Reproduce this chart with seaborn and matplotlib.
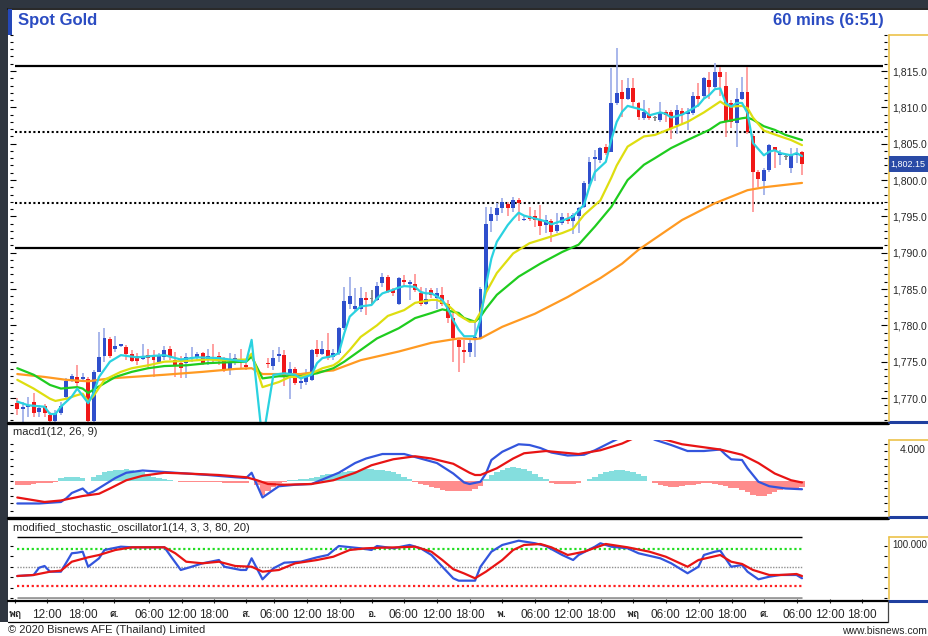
import numpy as np
import seaborn as sns
import matplotlib.pyplot as plt
from matplotlib import font_manager
from matplotlib.ft2font import FT2Font
from matplotlib.lines import Line2D
from matplotlib.patches import Rectangle
from matplotlib.ticker import FuncFormatter, FixedLocator

nan = float('nan')

# hourly candles, Spot Gold
opens = [1769.3, 1768.5, 1768.8, 1769.4, 1768.1, 1768.9, 1767.7, 1766.8, 1767.9, 1770.2,
         1772.5, 1772.9, 1772.6, 1772.6, 1766.8, 1773.6, 1775.8, 1778.1, 1776.7, 1777.1,
         1777.0, 1776.1, 1775.8, 1775.4, 1775.9, 1775.8, 1774.9, 1775.7, 1776.7, 1775.2,
         1774.8, 1774.8, 1775.5, 1775.5, 1776.2, 1775.3, 1775.7, 1775.8, 1775.5, 1774.0,
         1775.2, 1775.2, 1774.5, nan, nan, nan, 1774.8, 1774.4, 1775.8, 1775.9,
         1773.4, 1774.0, 1772.0, 1772.2, 1772.5, 1776.7, 1776.1, 1776.6, 1775.6, 1776.2,
         1779.6, 1783.0, 1782.3, 1782.3, 1783.8, 1783.6, 1783.5, 1785.8, 1786.6, 1784.8,
         1783.0, 1786.3, 1785.7, 1785.7, 1784.5, 1783.0, 1784.8, 1783.7, 1784.2, 1782.9,
         1781.0, 1778.0, 1776.6, 1776.4, 1778.0, 1778.2, 1784.9, 1794.3, 1795.2, 1796.1,
         1796.7, 1796.1, 1797.2, 1794.5, 1795.0, 1795.0, 1794.5, 1793.8, 1794.3, 1793.0,
         1794.1, 1794.7, 1794.3, 1795.0, 1796.3, 1799.5, 1802.9, 1802.7, 1804.6, 1803.9,
         1810.6, 1812.1, 1811.2, 1812.6, 1810.6, 1808.5, 1808.9, 1808.5, 1808.3, 1809.4,
         1809.3, 1807.6, 1809.5, 1809.1, 1809.2, 1811.6, 1811.5, 1813.8, 1812.8, 1814.8,
         1812.9, 1810.6, 1807.9, 1811.2, 1812.1, 1806.0, 1801.1, 1799.8, 1801.4, 1804.5,
         1803.4, 1803.2, 1801.6, 1803.4, 1803.9]
highs = [1770.0, 1769.5, 1770.2, 1770.7, 1769.0, 1769.2, 1768.1, 1768.4, 1769.5, 1772.7,
         1773.3, 1774.6, 1773.4, 1772.9, 1773.9, 1779.1, 1779.6, 1778.4, 1778.5, 1777.5,
         1777.3, 1776.6, 1776.2, 1777.4, 1776.8, 1776.6, 1776.2, 1777.1, 1777.1, 1776.4,
         1775.8, 1776.2, 1777.0, 1776.4, 1776.4, 1776.8, 1777.4, 1776.4, 1775.7, 1776.2,
         1776.1, 1776.8, 1774.8, nan, nan, nan, 1775.5, 1776.6, 1777.0, 1776.6,
         1775.0, 1774.3, 1772.9, 1774.0, 1776.8, 1778.0, 1777.8, 1779.0, 1776.8, 1779.8,
         1785.3, 1786.7, 1785.1, 1785.3, 1784.6, 1784.9, 1786.0, 1787.2, 1786.9, 1785.2,
         1786.7, 1786.9, 1786.2, 1787.1, 1785.3, 1785.1, 1785.1, 1785.1, 1785.3, 1783.5,
         1781.7, 1778.2, 1778.0, 1778.2, 1780.3, 1785.3, 1796.3, 1796.3, 1796.8, 1797.5,
         1797.0, 1797.7, 1797.5, 1795.0, 1796.3, 1795.9, 1796.6, 1795.2, 1794.7, 1795.4,
         1795.4, 1795.4, 1795.4, 1796.3, 1799.8, 1803.2, 1804.1, 1804.6, 1805.0, 1815.4,
         1818.1, 1813.8, 1814.0, 1814.0, 1810.8, 1811.0, 1809.9, 1808.8, 1810.8, 1809.6,
         1809.6, 1810.3, 1809.9, 1809.9, 1812.1, 1813.3, 1814.2, 1814.9, 1816.1, 1815.6,
         1814.9, 1811.0, 1812.6, 1814.2, 1815.6, 1806.4, 1801.4, 1801.6, 1805.0, 1804.6,
         1804.1, 1803.6, 1804.4, 1804.4, 1804.0]
lows = [1767.7, 1766.6, 1767.4, 1767.4, 1767.4, 1767.4, 1766.6, 1766.6, 1767.7, 1769.7,
        1772.2, 1771.6, 1772.2, 1766.6, 1766.6, 1773.6, 1775.0, 1775.5, 1776.4, 1777.0,
        1775.2, 1775.0, 1774.5, 1775.2, 1774.3, 1772.9, 1774.7, 1775.2, 1775.2, 1772.9,
        1772.7, 1772.7, 1775.0, 1775.1, 1774.5, 1774.5, 1775.0, 1774.5, 1773.6, 1773.2,
        1774.5, 1774.1, 1773.9, nan, nan, nan, 1774.1, 1773.9, 1774.9, 1771.6,
        1769.8, 1771.8, 1771.2, 1771.8, 1772.4, 1775.7, 1775.9, 1775.2, 1775.2, 1775.9,
        1779.4, 1782.3, 1781.9, 1781.9, 1781.4, 1783.0, 1783.3, 1785.3, 1784.4, 1784.0,
        1782.8, 1785.3, 1783.5, 1784.6, 1782.6, 1782.8, 1783.7, 1782.3, 1782.6, 1780.3,
        1775.0, 1773.6, 1774.8, 1775.7, 1775.7, 1778.1, 1784.6, 1792.9, 1794.3, 1795.4,
        1795.0, 1795.6, 1794.3, 1794.3, 1794.3, 1793.6, 1792.4, 1792.7, 1791.5, 1792.7,
        1793.8, 1794.0, 1792.6, 1792.7, 1796.1, 1799.1, 1799.8, 1802.3, 1803.4, 1803.8,
        1810.3, 1808.7, 1811.0, 1810.1, 1808.3, 1808.3, 1808.3, 1808.1, 1808.0, 1808.0,
        1805.7, 1806.4, 1807.8, 1806.9, 1808.9, 1810.1, 1811.2, 1811.2, 1812.6, 1811.5,
        1805.9, 1807.1, 1804.6, 1811.0, 1806.4, 1795.6, 1799.1, 1797.9, 1801.1, 1801.6,
        1802.1, 1802.7, 1800.9, 1802.3, 1800.7]
closes = [1768.5, 1768.8, 1769.0, 1768.0, 1768.6, 1767.9, 1766.8, 1767.9, 1768.9, 1772.3,
          1773.0, 1772.0, 1772.9, 1766.8, 1773.6, 1775.6, 1778.2, 1775.8, 1777.2, 1777.4,
          1776.1, 1775.1, 1775.1, 1775.7, 1775.5, 1775.2, 1775.8, 1776.6, 1775.8, 1774.5,
          1774.1, 1775.7, 1775.7, 1776.1, 1774.8, 1775.8, 1775.5, 1775.1, 1774.0, 1774.8,
          1775.5, 1775.0, 1774.3, nan, nan, nan, 1774.7, 1775.5, 1776.0, 1772.9,
          1774.0, 1772.0, 1772.3, 1773.2, 1776.6, 1776.1, 1776.8, 1775.5, 1776.2, 1779.6,
          1783.3, 1784.0, 1782.7, 1783.7, 1783.5, 1783.6, 1785.4, 1786.7, 1784.6, 1784.5,
          1786.5, 1786.0, 1785.9, 1784.9, 1783.0, 1783.6, 1784.2, 1784.4, 1782.9, 1781.0,
          1778.2, 1777.0, 1776.4, 1777.6, 1778.4, 1785.0, 1794.0, 1795.3, 1796.1, 1797.0,
          1796.1, 1797.3, 1796.8, 1794.7, 1794.7, 1794.5, 1793.7, 1794.5, 1792.9, 1793.8,
          1794.9, 1794.3, 1795.2, 1796.1, 1799.6, 1802.5, 1803.2, 1804.4, 1803.7, 1810.6,
          1812.0, 1811.2, 1812.7, 1810.8, 1808.7, 1809.3, 1808.6, 1808.5, 1809.4, 1808.9,
          1807.2, 1809.6, 1808.9, 1809.4, 1811.6, 1811.2, 1814.0, 1812.8, 1814.8, 1814.2,
          1808.0, 1808.0, 1811.2, 1812.1, 1806.6, 1801.1, 1800.1, 1801.4, 1804.8, 1804.1,
          1803.7, 1803.2, 1803.4, 1803.7, 1802.15]

# moving averages, read at bar index
cyan_idx = [0, 2, 5, 6, 7, 8, 10, 11, 13, 14, 15, 17, 19, 21, 22, 25, 27, 29, 30, 33, 37, 40, 42, 43, 45,
            47, 49, 51, 52, 54, 55, 56, 58, 59, 60, 61, 62, 63, 65, 66, 67, 69, 70, 71, 73, 74, 75, 76,
            77, 78, 79, 80, 81, 82, 84, 85, 86, 87, 88, 90, 91, 92, 93, 95, 97, 98, 100, 102, 104, 105,
            106, 108, 109, 110, 111, 112, 114, 115, 116, 118, 119, 120, 122, 123, 125, 126, 127, 128,
            129, 130, 131, 132, 133, 134, 135, 137, 138, 139, 140, 142, 143, 144]
cyan_val = [1769.5, 1769.0, 1768.8, 1767.8, 1767.8, 1768.8, 1770.2, 1771.3, 1769.3, 1770.7, 1772.9,
            1775.0, 1775.9, 1775.7, 1775.6, 1775.8, 1775.9, 1775.5, 1775.3, 1775.6, 1775.5, 1775.2,
            1775.0, 1778.0, 1764.0, 1773.2, 1773.4, 1773.2, 1772.7, 1773.2, 1774.8, 1775.5, 1775.8,
            1776.2, 1778.9, 1781.2, 1781.9, 1782.6, 1782.8, 1783.7, 1784.4, 1784.9, 1785.2, 1785.4,
            1785.3, 1784.6, 1784.4, 1784.4, 1784.0, 1783.5, 1782.3, 1780.7, 1779.4, 1778.5, 1778.5,
            1780.8, 1785.5, 1789.2, 1791.5, 1793.8, 1794.7, 1795.5, 1795.1, 1794.7, 1794.3, 1793.9,
            1794.4, 1795.0, 1796.6, 1799.1, 1801.1, 1802.5, 1805.5, 1808.0, 1809.4, 1810.2, 1809.8,
            1809.6, 1808.9, 1809.3, 1809.1, 1808.6, 1809.0, 1809.4, 1810.3, 1811.2, 1811.7, 1812.5,
            1812.6, 1810.6, 1810.1, 1810.6, 1810.6, 1809.2, 1805.1, 1803.4, 1803.9, 1804.1, 1803.7,
            1803.4, 1803.7, 1803.3]
yellow_idx = [0, 3, 6, 7, 9, 11, 12, 13, 14, 16, 19, 21, 24, 27, 31, 35, 38, 42, 43, 45, 48, 50, 52, 54,
              56, 58, 59, 61, 63, 66, 68, 71, 73, 76, 77, 79, 81, 83, 84, 85, 86, 88, 91, 94, 97, 100,
              102, 104, 107, 109, 110, 112, 115, 117, 120, 123, 126, 129, 130, 131, 133, 134, 135, 137,
              140, 142, 144]
yellow_val = [1772.5, 1771.3, 1769.9, 1769.6, 1769.9, 1770.4, 1770.6, 1769.5, 1770.3, 1772.5, 1773.6,
              1774.1, 1774.5, 1775.0, 1775.1, 1775.3, 1775.2, 1775.3, 1776.1, 1771.5, 1772.2, 1772.9,
              1772.9, 1773.4, 1774.1, 1774.5, 1775.0, 1776.6, 1778.4, 1780.0, 1781.3, 1782.1, 1783.1,
              1783.5, 1783.5, 1782.8, 1781.4, 1780.5, 1780.5, 1781.8, 1784.5, 1787.2, 1789.9, 1791.3,
              1792.0, 1792.7, 1793.3, 1795.2, 1797.2, 1800.3, 1802.0, 1804.6, 1806.0, 1806.2, 1807.1,
              1808.0, 1809.3, 1810.8, 1810.3, 1810.1, 1810.2, 1809.9, 1808.6, 1806.8, 1806.0, 1805.5,
              1804.8]
green_idx = [0, 3, 6, 8, 11, 12, 13, 15, 18, 21, 24, 27, 31, 35, 38, 42, 43, 45, 48, 52, 55, 58, 60, 63,
             66, 70, 73, 76, 78, 81, 82, 84, 85, 86, 88, 92, 96, 100, 103, 106, 109, 112, 115, 117, 120,
             123, 127, 129, 131, 133, 134, 135, 137, 139, 141, 144]
green_val = [1774.1, 1773.2, 1771.8, 1771.3, 1771.5, 1771.3, 1770.7, 1771.6, 1772.9, 1773.6, 1774.1,
             1774.4, 1774.5, 1774.8, 1774.9, 1775.0, 1775.7, 1772.7, 1773.0, 1773.0, 1773.4, 1774.1,
             1775.0, 1776.6, 1778.2, 1779.6, 1781.0, 1781.7, 1782.2, 1781.7, 1781.0, 1780.5, 1781.2,
             1782.3, 1784.2, 1786.7, 1788.5, 1790.1, 1791.1, 1793.6, 1796.3, 1800.0, 1802.1, 1803.0,
             1804.4, 1805.5, 1806.9, 1807.9, 1808.2, 1808.5, 1808.6, 1808.3, 1807.4, 1806.9, 1806.2,
             1805.5]
orange_idx = [0, 5, 9, 13, 17, 21, 27, 34, 40, 43, 45, 49, 52, 55, 58, 63, 70, 76, 81, 84, 85, 89, 95,
              101, 107, 111, 114, 122, 128, 134, 137, 144]
orange_val = [1773.3, 1772.9, 1772.5, 1772.3, 1772.7, 1772.9, 1773.2, 1773.6, 1774.0, 1774.1, 1773.3,
              1773.3, 1773.3, 1773.6, 1773.8, 1775.2, 1776.4, 1777.6, 1778.2, 1778.1, 1778.2, 1779.8,
              1781.6, 1783.9, 1786.5, 1788.5, 1790.4, 1794.5, 1796.8, 1798.6, 1799.0, 1799.6]
levels_solid = [1815.7, 1790.6]
levels_dotted = [1806.6, 1796.9]
last_price = '1,802.15'

# macd1(12, 26, 9)
macd_idx = [0, 4, 8, 9, 10, 12, 13, 14, 16, 18, 20, 23, 27, 31, 35, 40, 42, 43, 45, 48, 51, 54, 57, 59,
            62, 64, 67, 71, 74, 77, 80, 82, 83, 85, 86, 87, 89, 92, 94, 96, 98, 101, 104, 106, 109, 111,
            113, 116, 117, 120, 123, 126, 129, 130, 131, 133, 134, 136, 138, 141, 144]
macd_val = [-3.0, -3.0, -2.8, -2.3, -1.6, -1.0, -1.7, -1.4, -0.5, 0.4, 1.1, 1.4, 1.2, 1.0, 0.8, 0.5,
            0.4, 1.1, -2.2, -0.7, -0.5, -0.4, 0.5, 1.1, 2.4, 3.0, 3.6, 3.6, 3.0, 2.4, 1.0, -0.2, -0.4,
            -0.1, 1.0, 2.8, 3.9, 4.9, 4.8, 4.4, 3.8, 3.4, 3.5, 4.1, 5.2, 5.9, 6.5, 5.9, 5.5, 4.8, 4.0,
            4.0, 4.2, 3.5, 2.9, 2.8, 1.7, -0.1, -0.7, -1.0, -1.1]
signal_idx = [0, 5, 8, 12, 15, 17, 20, 23, 27, 31, 37, 42, 44, 46, 49, 54, 58, 62, 65, 69, 73, 76, 80,
              83, 84, 85, 88, 91, 93, 97, 100, 103, 107, 111, 114, 119, 122, 125, 129, 133, 136, 139,
              142, 144]
signal_val = [-2.2, -2.8, -2.6, -2.0, -1.7, -1.0, 0.1, 0.7, 1.1, 1.0, 0.8, 0.5, 0.1, -0.4, -0.5, -0.4,
              0.1, 1.1, 2.1, 2.9, 3.3, 3.0, 2.3, 1.1, 0.8, 0.8, 1.7, 3.0, 3.7, 4.0, 3.8, 3.6, 4.1, 5.0,
              6.0, 5.5, 4.9, 4.6, 4.2, 3.5, 2.4, 1.0, 0.1, -0.2]
macd_hist = [-0.5, -0.5, -0.5, -0.4, -0.3, -0.3, -0.3, -0.2, 0.4, 0.5,
             0.5, 0.5, 0.4, 0.0, 0.6, 0.8, 1.2, 1.4, 1.5, 1.5,
             1.6, 1.5, 1.4, 1.2, 0.9, 0.6, 0.4, 0.2, 0.1, 0.0,
             -0.1, -0.1, -0.2, -0.2, -0.2, -0.2, -0.2, -0.2, -0.3, -0.3,
             -0.3, -0.3, -0.3, 0.0, -0.6, -1.9, -1.4, -0.8, -0.3, -0.1,
             0.1, 0.1, 0.2, 0.2, 0.4, 0.6, 0.8, 0.9, 1.0, 1.1,
             1.2, 1.3, 1.4, 1.5, 1.6, 1.6, 1.5, 1.5, 1.4, 1.2,
             1.0, 0.6, 0.3, -0.2, -0.4, -0.6, -0.8, -1.0, -1.2, -1.3,
             -1.4, -1.4, -1.4, -1.3, -1.1, -0.7, 0.3, 0.8, 1.2, 1.5,
             1.7, 1.9, 1.8, 1.6, 1.3, 1.0, 0.6, 0.3, -0.3, -0.4,
             -0.4, -0.4, -0.4, -0.3, 0.0, 0.3, 0.6, 0.9, 1.2, 1.4,
             1.5, 1.5, 1.4, 1.2, 1.0, 0.7, 0.0, -0.3, -0.5, -0.7,
             -0.8, -0.8, -0.7, -0.6, -0.5, -0.4, -0.3, -0.3, -0.4, -0.5,
             -0.7, -0.9, -1.0, -1.2, -1.5, -1.9, -2.0, -2.0, -1.8, -1.5,
             -1.2, -1.0, -0.9, -0.9, -0.8]

# modified_stochastic_oscillator1(14, 3, 3, 80, 20)
k_idx = [0, 3, 4, 5, 6, 8, 10, 11, 12, 13, 15, 16, 19, 21, 27, 28, 30, 32, 34, 37, 38, 41, 42, 43, 45,
         47, 49, 52, 55, 57, 59, 63, 65, 66, 69, 72, 74, 76, 78, 80, 81, 84, 85, 87, 89, 92, 95, 97,
         100, 102, 103, 106, 107, 109, 112, 114, 118, 120, 123, 125, 126, 128, 129, 131, 133, 134,
         136, 138, 140, 143, 144]
k_val = [35.8, 37.5, 49.4, 52.2, 42.9, 42.9, 73, 74, 75.6, 51, 64.8, 78.4, 83.8, 82.8, 82.8, 70.2, 45.7,
         51, 56.6, 62, 51, 45.7, 45.7, 64.8, 30.4, 48.4, 57.6, 59.2, 66.4, 70.2, 84.9, 81.2, 78.4, 84.9,
         81.2, 86.6, 81.2, 70.2, 51, 32.1, 28.2, 28.2, 51, 75.6, 86.6, 93.6, 89.4, 84.9, 70.2, 62, 70.2,
         83.8, 89.4, 83.8, 81.2, 73, 64.8, 56.6, 40.3, 51, 70.2, 75.6, 77.3, 51, 53.8, 42.9, 30.4, 34.7,
         37.5, 37.5, 32.1]
d_idx = [0, 3, 6, 8, 10, 13, 15, 18, 21, 27, 29, 31, 34, 37, 40, 43, 45, 48, 51, 55, 58, 61, 64, 67, 70,
         73, 76, 78, 80, 82, 84, 86, 89, 91, 93, 96, 98, 101, 104, 108, 112, 116, 119, 123, 125, 129,
         131, 133, 135, 138, 140, 143, 144]
d_val = [35.8, 37.5, 42.9, 44.5, 59.2, 66.4, 70.2, 78.4, 82.8, 82.8, 73, 59.2, 56.6, 59.2, 52.2, 51,
         42.9, 45.7, 56.6, 62, 67.4, 78.4, 81.2, 82.2, 82.8, 83.8, 75.6, 62, 47, 40, 32.1, 42.9, 62,
         78.4, 86.6, 88.2, 82.8, 70.2, 75.6, 88.2, 82.8, 75.6, 67.4, 51, 62, 70.2, 59.2, 55.5, 45.7,
         37.5, 37.5, 39.1, 35.8]
stoch_levels = [100, 80, 50, 20, 0]

# time axis
tick_pos = [-0.4, 5.4, 12.1, 17.7, 24.2, 30.2, 36.1, 42.0, 47.1, 53.2, 59.2, 65.1, 70.9, 77.0, 83.1,
            88.9, 95.0, 101.0, 107.1, 113.0, 119.0, 125.1, 131.1, 137.0, 143.1, 149.1, 155.0]
tick_lab = ['พฤ', '12:00', '18:00', 'ศ.', '06:00', '12:00', '18:00', 'ส.', '06:00', '12:00', '18:00',
            'อ.', '06:00', '12:00', '18:00', 'พ.', '06:00', '12:00', '18:00', 'พฤ', '06:00', '12:00',
            '18:00', 'ศ.', '06:00', '12:00', '18:00']

W, H = 929, 636
BLUE, RED = '#2f4fcc', '#f01818'
BLUE_W, RED_W = '#9aaae8', '#ff9090'
FRAME_BLUE, GOLD = '#1f3f9f', '#ecc24a'


def find_font(ch):
    for fe in font_manager.fontManager.ttflist:
        try:
            if ord(ch) in FT2Font(fe.fname).get_charmap():
                return fe.name
        except Exception:
            continue
    return None


thai_font = find_font('ศ')

sns.set_style("white")
plt.rcParams['font.family'] = ['Liberation Sans Narrow', 'Liberation Sans', 'DejaVu Sans']
plt.rcParams['font.size'] = 8

fig = plt.figure(figsize=(W / 100, H / 100), dpi=100, facecolor='#2f3640')


def box(x0, y0, x1, y1):
    return [x0 / W, 1 - y1 / H, (x1 - x0) / W, (y1 - y0) / H]


def hline(x0, x1, y, **kw):
    fig.add_artist(Line2D([x0 / W, x1 / W], [1 - y / H, 1 - y / H], zorder=6, **kw))


def vline(x, y0, y1, **kw):
    fig.add_artist(Line2D([x / W, x / W], [1 - y0 / H, 1 - y1 / H], zorder=6, **kw))


def rect(x0, y0, x1, y1, color, z=-1):
    fig.add_artist(Rectangle((x0 / W, 1 - y1 / H), (x1 - x0) / W, (y1 - y0) / H,
                             transform=fig.transFigure, facecolor=color, edgecolor='none', zorder=z))


rect(8, 8, 929, 622, 'white')
rect(0, 622, 929, 636, 'white')

xlim = (-1.34, 159.6)


def style_axes(ax):
    ax.set_facecolor('none')
    for s in ax.spines.values():
        s.set_visible(False)
    ax.set_xlim(*xlim)
    ax.set_xticks([])
    ax.yaxis.tick_right()
    ax.tick_params(axis='y', which='both', left=True, right=True, direction='in',
                   labelleft=False, width=0.8, color='black')
    ax.tick_params(axis='y', which='major', length=4)
    ax.tick_params(axis='y', which='minor', length=2)


# ---- price panel
ax_p = fig.add_axes(box(10, 8, 887, 422))
style_axes(ax_p)
ax_p.set_ylim(1766.7, 1823.67)
ax_p.set_yticks([1770, 1775, 1780, 1785, 1790, 1795, 1800, 1805, 1810, 1815])
ax_p.yaxis.set_minor_locator(FixedLocator(list(range(1767, 1821))))
ax_p.yaxis.set_major_formatter(FuncFormatter(lambda v, p: f"{v:,.1f}"))
ax_p.tick_params(axis='y', labelright=True, pad=3.5, labelsize=7.5)

ax_p.hlines(levels_solid, -0.4, 158.8, colors='black', linewidth=1.6, zorder=1)
ax_p.hlines(levels_dotted, -0.4, 158.8, colors='black', linewidth=1.5, linestyles=(0, (1, 1.2)), zorder=1)

idx = np.arange(len(closes))
o, h, l, c = (np.array(a, dtype=float) for a in (opens, highs, lows, closes))
ok = ~np.isnan(c)
up, dn = c > o, c < o
body_col = np.where(up, BLUE, np.where(dn, RED, '#808080'))
wick_col = np.where(up, BLUE_W, np.where(dn, RED_W, '#808080'))
ax_p.vlines(idx[ok], l[ok], h[ok], colors=wick_col[ok], linewidth=1.2, zorder=2)
ax_p.bar(idx[ok], np.maximum(np.abs(c - o), 0.14)[ok], bottom=np.minimum(o, c)[ok], width=0.72,
         color=body_col[ok], linewidth=0, zorder=3)

for xs, ys, col in [(orange_idx, orange_val, '#ff9a22'), (green_idx, green_val, '#1fcc1f'),
                    (yellow_idx, yellow_val, '#dede10'), (cyan_idx, cyan_val, '#2ad2e0')]:
    sns.lineplot(x=xs, y=ys, ax=ax_p, color=col, linewidth=1.6, zorder=4)
ax_p.set_xlim(*xlim)
ax_p.set_ylim(1766.7, 1823.67)
ax_p.set_xlabel('')
ax_p.set_ylabel('')

# ---- macd panel
ax_m = fig.add_axes(box(10, 440, 887, 516))
style_axes(ax_m)
ax_m.bar(idx, macd_hist, width=1.0, linewidth=0,
         color=['#84dede' if v > 0 else '#ff8c8c' for v in macd_hist], zorder=1)
sns.lineplot(x=macd_idx, y=macd_val, ax=ax_m, color='#3355dd', linewidth=1.6, zorder=3)
sns.lineplot(x=signal_idx, y=signal_val, ax=ax_m, color='#e81414', linewidth=1.6, zorder=4)
ax_m.set_xlim(*xlim)
ax_m.set_ylim(-4.67, 5.47)
ax_m.set_yticks([])
ax_m.yaxis.set_minor_locator(FixedLocator(list(range(-4, 6))))
ax_m.set_xticks([])
ax_m.set_xlabel('')
ax_m.set_ylabel('')

# ---- stochastic panel
ax_s = fig.add_axes(box(10, 530, 887, 599))
style_axes(ax_s)
lv_style = {100: ('black', '-', 1.0), 80: ('#22dd22', (0, (1, 1.2)), 1.6),
            50: ('#909090', (0, (1, 1)), 1.0), 20: ('#ff2020', (0, (1, 1.2)), 1.6),
            0: ('#999999', '-', 2.0)}
for lv in stoch_levels:
    col, ls, lw = lv_style[lv]
    ax_s.hlines(lv, 0, 144, colors=col, linestyles=ls, linewidth=lw, zorder=1)
sns.lineplot(x=k_idx, y=k_val, ax=ax_s, color='#3355dd', linewidth=1.6, zorder=3)
sns.lineplot(x=d_idx, y=d_val, ax=ax_s, color='#e81414', linewidth=1.6, zorder=4)
ax_s.set_xlim(*xlim)
ax_s.set_ylim(-1.8, 111.1)
ax_s.set_yticks([])
ax_s.yaxis.set_minor_locator(FixedLocator([0, 17, 34, 51, 68, 85]))
ax_s.set_xlabel('')
ax_s.set_ylabel('')
ax_s.set_xticks(tick_pos)
ax_s.set_xticklabels(tick_lab)
ax_s.tick_params(axis='x', bottom=True, direction='out', length=3, width=0.8, pad=4, labelsize=8.5)
day_family = [thai_font, 'DejaVu Sans'] if thai_font else ['DejaVu Sans']
for t in ax_s.get_xticklabels():
    if ':' not in t.get_text():
        t.set_family(day_family)
        t.set_fontweight('bold')
        t.set_fontsize(7.5)

# ---- frame lines and right column
hline(8, 929, 9, color='black', linewidth=1.2)
for y in (423, 517.5):
    hline(8, 888, y, color='black', linewidth=2.4)
    hline(889, 929, y - 1, color=FRAME_BLUE, linewidth=2.2)
hline(8, 888, 601, color='black', linewidth=1.6)
hline(889, 929, 600.5, color=FRAME_BLUE, linewidth=2.2)
hline(8, 888, 621.5, color='black', linewidth=0.9)
vline(888, 601, 622, color='#444444', linewidth=0.9)
for y0, y1 in ((35, 421), (440, 516), (537, 599)):
    vline(889.5, y0, y1, color=GOLD, linewidth=1.2)
    hline(889.5, 929, y0, color=GOLD, linewidth=1.2)

rect(8, 9, 12.5, 35, '#2548b8', z=6)
fig.text(18 / W, 1 - 21 / H, 'Spot Gold', fontsize=12, fontweight='bold', color='#2b4cc2',
         family='Liberation Sans', va='center', ha='left')
fig.text(884 / W, 1 - 21 / H, '60 mins (6:51)', fontsize=12, fontweight='bold', color='#2b4cc2',
         family='Liberation Sans', va='center', ha='right')

rect(889, 156, 929, 172, '#2a4aa6', z=6)
fig.text(890.5 / W, 1 - 164.5 / H, last_price, fontsize=6.5, color='white', va='center', ha='left', zorder=7)

fig.text(13 / W, 1 - 432 / H, 'macd1(12, 26, 9)', fontsize=8, va='center', ha='left')
fig.text(13 / W, 1 - 528 / H, 'modified_stochastic_oscillator1(14, 3, 3, 80, 20)', fontsize=8,
         va='center', ha='left')
fig.text(900 / W, 1 - 450 / H, '4.000', fontsize=7.5, va='center', ha='left')
fig.text(892 / W, 1 - 545 / H, '100.000', fontsize=7, va='center', ha='left')

fig.text(8 / W, 1 - 630 / H, '© 2020 Bisnews AFE (Thailand) Limited', fontsize=8, va='center', ha='left')
fig.text(927 / W, 1 - 631 / H, 'www.bisnews.com', fontsize=7.5, va='center', ha='right')

fig.savefig('out.png', dpi=100, facecolor=fig.get_facecolor())
